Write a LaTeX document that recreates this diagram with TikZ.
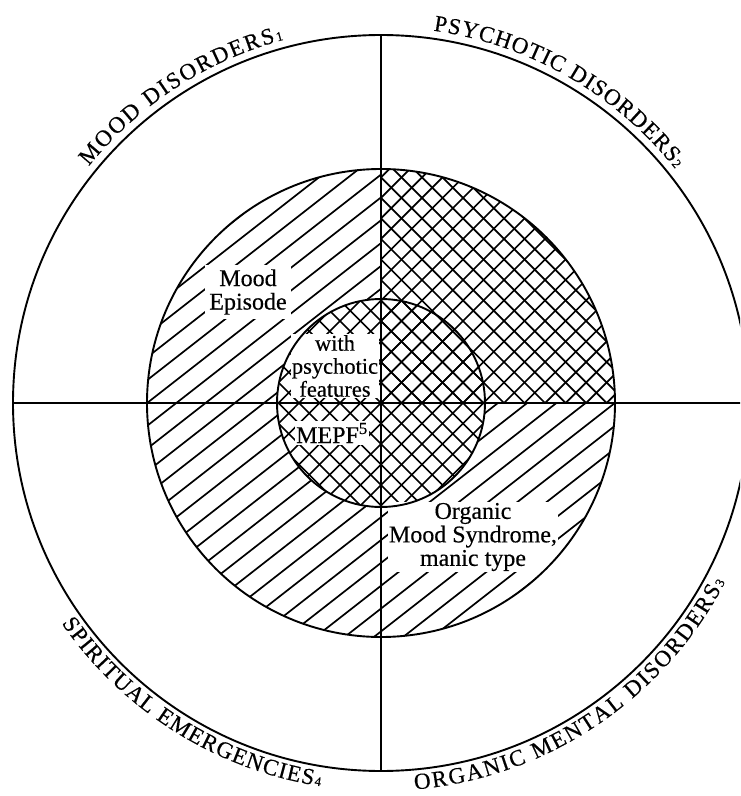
\documentclass[tikz,border=0pt]{standalone}
\usepackage{fontspec}
\setmainfont{Liberation Serif}[FakeBold=0.4]
\usetikzlibrary{decorations.text}
\newcommand\lblfont{\fontsize{23}{23}\selectfont}
\newcommand\digfont{\fontsize{13}{13}\selectfont}
\newcommand\inlfont{\fontsize{24}{23.5}\selectfont}
\newcommand\inlfontsm{\fontsize{22.5}{23}\selectfont}
\begin{document}
\begin{tikzpicture}[x=1pt,y=1pt,
  hatch/.style={line width=1.7pt},
  ring/.style={line width=1.9pt},
  inlabel/.style={fill=white, inner sep=2pt, align=center, font=\inlfont},
  arclabel/.style={decorate, decoration={text along path, text align={fit to path=true}}}
]
\useasboundingbox (-381,-393) rectangle (359,403);
\clip (-381,-393) rectangle (359,403);
% single hatching (Mood Episode region)
\begin{scope}[even odd rule]
  \clip (0,234) arc[start angle=90,end angle=360,radius=234] -- (0,0) -- cycle
     (0,104) arc[start angle=90,end angle=360,radius=104] -- (0,0) -- cycle;
  \begin{scope}[rotate=38]
    \foreach \k in {-15,...,15} \draw[hatch] (-260,\k*18) -- (260,\k*18);
  \end{scope}
\end{scope}
% cross hatching: upper right quadrant
\begin{scope}
  \clip (0,0) -- (234,0) arc[start angle=0,end angle=90,radius=234] -- cycle;
  \foreach \a in {45,-45}{
    \begin{scope}[rotate=\a]
      \foreach \k in {-18,...,18} \draw[hatch] (-260,\k*14.5) -- (260,\k*14.5);
    \end{scope}}
\end{scope}
% cross hatching: inner disk
\begin{scope}
  \clip (0,0) circle[radius=104];
  \foreach \a in {45,-45}{
    \begin{scope}[rotate=\a]
      \foreach \k in {-18,...,18} \draw[hatch] (-260,\k*14.5) -- (260,\k*14.5);
    \end{scope}}
\end{scope}
% inner labels
\node[inlabel, inner sep=4pt] (moodep) at (-133,111) {Mood\\Episode};
\node[inlabel, inner sep=1pt, font=\inlfontsm] (withpf) at (-46,37) {with\\psychotic\\features};
\node[inlabel, inner sep=1.5pt] (mepf) at (-49,-30) {MEPF\textsuperscript{5}};
\node[inlabel, inner sep=1pt] (organic) at (92,-134) {Organic\\Mood Syndrome,\\manic type};
% circles and axes
\draw[ring] (0,0) circle[radius=368];
\draw[ring] (0,0) circle[radius=234];
\draw[ring] (0,0) circle[radius=104];
\draw[ring] (-368,0) -- (368,0);
\draw[ring] (0,368) -- (0,-368);
% outer curved labels
\path[arclabel, decoration={text={|\lblfont|MOOD DISORDERS|\digfont|1}}]
  (141:376) arc[start angle=141,end angle=105,radius=376];
\path[arclabel, decoration={text={|\lblfont|PSYCHOTIC DISORDERS|\digfont|2}}]
  (82:376) arc[start angle=82,end angle=38.5,radius=376];
\path[arclabel, decoration={text={|\lblfont|SPIRITUAL EMERGENCIES|\digfont|4}}]
  (214.6:388) arc[start angle=214.6,end angle=261,radius=388];
\path[arclabel, decoration={text={|\lblfont|ORGANIC MENTAL DISORDERS|\digfont|3}}]
  (275:388) arc[start angle=275,end angle=332.5,radius=388];
\end{tikzpicture}
\end{document}
